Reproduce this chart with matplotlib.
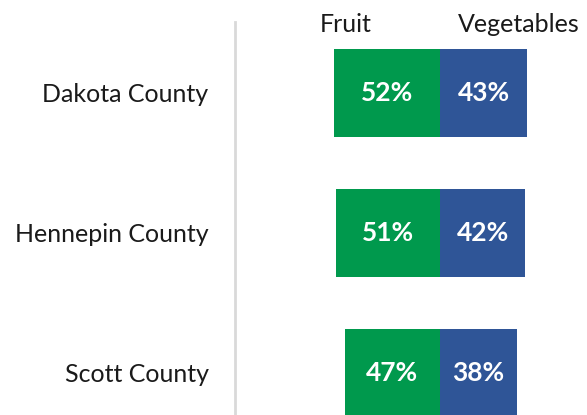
import numpy as np
import matplotlib
matplotlib.use('Agg')
import matplotlib.pyplot as plt

counties = ['Dakota County', 'Hennepin County', 'Scott County']
fruit = [52, 51, 47]
vegetables = [43, 42, 38]
series_names = ['Fruit', 'Vegetables']

green = '#00994d'
blue = '#2f5597'

plt.rcParams['font.family'] = ['Lato', 'DejaVu Sans']

fig = plt.figure(figsize=(5.87, 4.15), dpi=100)
W, H = 587.0, 415.0
# axes: left spine at x=235px, top at y=22px
ax = fig.add_axes([235 / W, 0, 1 - 235 / W, (H - 22) / H])

y = np.arange(len(counties))
fr = np.array(fruit)
vg = np.array(vegetables)

ax.barh(y, fr, left=-fr, height=0.63, color=green, linewidth=0)
ax.barh(y, vg, left=0, height=0.63, color=blue, linewidth=0)

for i in range(len(counties)):
    ax.text(-fr[i] / 2, y[i], str(fr[i]) + '%', ha='center', va='center',
            color='white', fontsize=19, fontweight='bold')
    ax.text(vg[i] / 2, y[i], str(vg[i]) + '%', ha='center', va='center',
            color='white', fontsize=19, fontweight='bold')

ax.set_xlim(-101, 72.4)
ax.set_ylim(2.3, -0.507)

ax.set_yticks(y)
ax.set_yticklabels(counties, fontsize=18, color='#1a1a1a')
ax.tick_params(axis='y', length=0, pad=19)
ax.set_xticks([])

for s in ['top', 'right', 'bottom']:
    ax.spines[s].set_visible(False)
ax.spines['left'].set_color('#d9d9d9')
ax.spines['left'].set_linewidth(2)

# series headers above the bars
fig.text(346 / W, 1 - 32 / H, series_names[0], ha='center', va='baseline',
         fontsize=18, color='#1a1a1a')
fig.text(519 / W, 1 - 32 / H, series_names[1], ha='center', va='baseline',
         fontsize=18, color='#1a1a1a')

fig.savefig('out.png', dpi=100)
